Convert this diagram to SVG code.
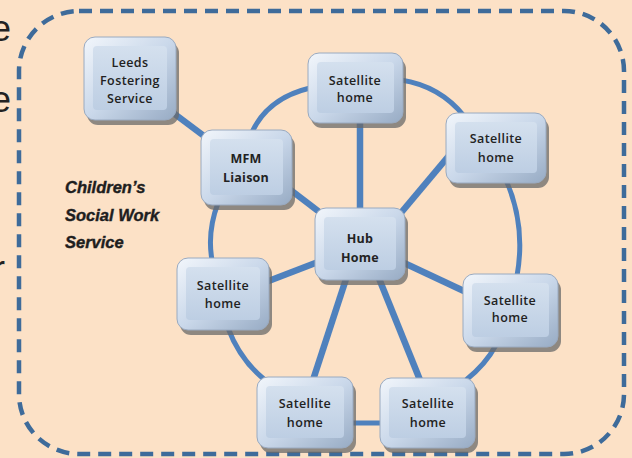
<svg xmlns="http://www.w3.org/2000/svg" width="632" height="458" viewBox="0 0 632 458">
<defs>
<linearGradient id="outer" x1="0" y1="0" x2="1" y2="1">
<stop offset="0" stop-color="#F2F6FB"/>
<stop offset="0.5" stop-color="#CAD8EA"/>
<stop offset="1" stop-color="#97ABC4"/>
</linearGradient>
<linearGradient id="face" x1="0" y1="0" x2="0" y2="1">
<stop offset="0" stop-color="#D4E0EE"/>
<stop offset="1" stop-color="#BDCEE3"/>
</linearGradient>
<style>
.shadow{fill:#6A6A6A;opacity:0.75}
.outer{fill:url(#outer);stroke:#9AAAC0;stroke-width:1}
.face{fill:url(#face)}
.lbl{font-family:"Open Sans","Liberation Sans",sans-serif;font-size:12.5px;font-weight:600;fill:#222;text-anchor:middle;letter-spacing:0.4px}
.bold{font-weight:700;letter-spacing:0.2px}
.spoke{stroke:#4F81BD;stroke-width:6.5;fill:none;stroke-linecap:butt}
.ring{stroke:#4F81BD;stroke-width:5;fill:none}
.frag{font-family:"Liberation Sans",sans-serif;font-size:36px;fill:#222}
</style>
</defs>
<rect x="0" y="0" width="632" height="458" fill="#FCE1C6"/>
<text class="frag" x="-9" y="41">e</text>
<text class="frag" x="-9" y="112">e</text>
<text class="frag" x="-7" y="281">r</text>
<rect x="19" y="11" width="605" height="443" rx="60" ry="60" fill="none" stroke="#3E6B9A" stroke-width="4.5" stroke-dasharray="13 8"/>
<text font-family="Liberation Sans, sans-serif" font-size="16.5" font-weight="bold" font-style="italic" fill="#1E1E1E" stroke="#1E1E1E" stroke-width="0.4">
<tspan x="65" y="193">Children’s</tspan>
<tspan x="65" y="221">Social Work</tspan>
<tspan x="65" y="248">Service</tspan>
</text>
<g id="connectors">
<line class="spoke" x1="172" y1="112" x2="212" y2="142"/>
<line class="spoke" x1="288" y1="188" x2="322" y2="214"/>
<line class="spoke" x1="360" y1="120" x2="360" y2="210"/>
<line class="spoke" x1="400" y1="214" x2="452" y2="152"/>
<line class="spoke" x1="402" y1="262" x2="466" y2="292"/>
<line class="spoke" x1="318" y1="262" x2="266" y2="282"/>
<line class="spoke" x1="347" y1="276" x2="313" y2="380"/>
<line class="spoke" x1="378" y1="276" x2="420" y2="380"/>
<path class="ring" d="M252,132 Q268,98 310,88"/>
<path class="ring" d="M401,80 Q440,86 464,116"/>
<path class="ring" d="M506,180 Q526,225 517,276"/>
<path class="ring" d="M496,345 Q486,364 466,380"/>
<path class="ring" d="M351,423 L382,423"/>
<path class="ring" d="M265,380 Q240,360 228,328"/>
<path class="ring" d="M212,260 Q207,232 218,203"/>
</g>
<g id="leeds">
<rect class="shadow" x="87" y="42" width="92" height="83" rx="11"/>
<rect class="outer" x="84" y="37" width="92" height="83" rx="11"/>
<rect class="face" x="93" y="46" width="74" height="64" rx="4"/>
<text class="lbl"><tspan x="130" y="67">Leeds</tspan><tspan x="130" y="85">Fostering</tspan><tspan x="130" y="103">Service</tspan></text>
</g>
<g id="sat-top">
<rect class="shadow" x="311" y="58" width="95" height="70" rx="11"/>
<rect class="outer" x="308" y="53" width="95" height="70" rx="11"/>
<rect class="face" x="317" y="62" width="77" height="51" rx="4"/>
<text class="lbl"><tspan x="355" y="85">Satellite</tspan><tspan x="355" y="102">home</tspan></text>
</g>
<g id="mfm">
<rect class="shadow" x="204" y="135" width="91" height="75" rx="11"/>
<rect class="outer" x="201" y="130" width="91" height="75" rx="11"/>
<rect class="face" x="210" y="139" width="73" height="56" rx="4"/>
<text class="lbl bold"><tspan x="246" y="163">MFM</tspan><tspan x="246" y="182">Liaison</tspan></text>
</g>
<g id="sat-right-top">
<rect class="shadow" x="449" y="118" width="100" height="70" rx="11"/>
<rect class="outer" x="446" y="113" width="100" height="70" rx="11"/>
<rect class="face" x="455" y="122" width="82" height="51" rx="4"/>
<text class="lbl"><tspan x="496" y="143">Satellite</tspan><tspan x="496" y="162">home</tspan></text>
</g>
<g id="hub">
<rect class="shadow" x="318" y="213" width="90" height="72" rx="11"/>
<rect class="outer" x="315" y="208" width="90" height="72" rx="11"/>
<rect class="face" x="324" y="217" width="72" height="53" rx="4"/>
<text class="lbl bold"><tspan x="360" y="243">Hub</tspan><tspan x="360" y="262">Home</tspan></text>
</g>
<g id="sat-left">
<rect class="shadow" x="180" y="263" width="92" height="72" rx="11"/>
<rect class="outer" x="177" y="258" width="92" height="72" rx="11"/>
<rect class="face" x="186" y="267" width="74" height="53" rx="4"/>
<text class="lbl"><tspan x="223" y="290">Satellite</tspan><tspan x="223" y="308">home</tspan></text>
</g>
<g id="sat-right-mid">
<rect class="shadow" x="466" y="279" width="95" height="73" rx="11"/>
<rect class="outer" x="463" y="274" width="95" height="73" rx="11"/>
<rect class="face" x="472" y="283" width="77" height="54" rx="4"/>
<text class="lbl"><tspan x="510" y="305">Satellite</tspan><tspan x="510" y="322">home</tspan></text>
</g>
<g id="sat-bottom-left">
<rect class="shadow" x="260" y="382" width="96" height="71" rx="11"/>
<rect class="outer" x="257" y="377" width="96" height="71" rx="11"/>
<rect class="face" x="266" y="386" width="78" height="52" rx="4"/>
<text class="lbl"><tspan x="305" y="408">Satellite</tspan><tspan x="305" y="427">home</tspan></text>
</g>
<g id="sat-bottom-right">
<rect class="shadow" x="383" y="383" width="95" height="70" rx="11"/>
<rect class="outer" x="380" y="378" width="95" height="70" rx="11"/>
<rect class="face" x="389" y="387" width="77" height="51" rx="4"/>
<text class="lbl"><tspan x="428" y="408">Satellite</tspan><tspan x="428" y="427">home</tspan></text>
</g>
</svg>
